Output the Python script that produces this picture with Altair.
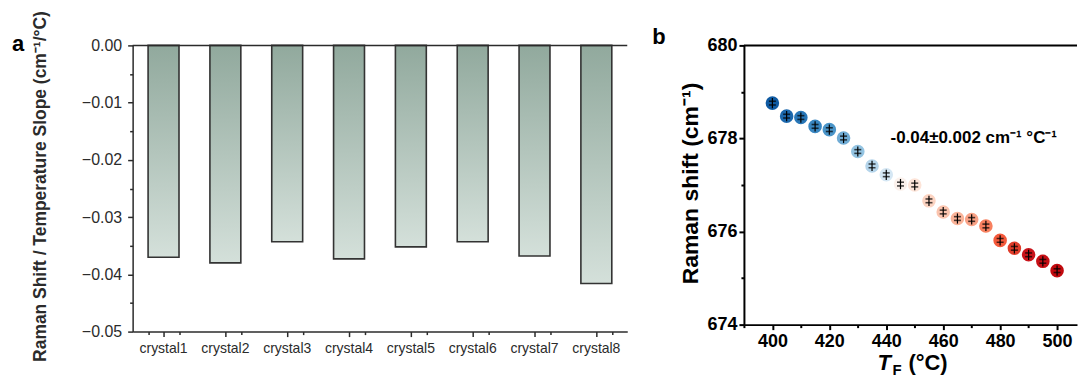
import altair as alt
import pandas as pd

FONT = "Liberation Sans"

# ---- panel a: slope per crystal ----
crystals = ["crystal1", "crystal2", "crystal3", "crystal4",
            "crystal5", "crystal6", "crystal7", "crystal8"]
slopes = [-0.0370, -0.0380, -0.0343, -0.0373, -0.0352, -0.0343, -0.0368, -0.0416]

# ---- panel b: Raman shift vs. temperature ----
temps = [400, 405, 410, 415, 420, 425, 430, 435, 440, 445, 450,
         455, 460, 465, 470, 475, 480, 485, 490, 495, 500]
shifts = [678.76, 678.48, 678.45, 678.26, 678.19, 678.01, 677.72, 677.41,
          677.22, 677.02, 677.00, 676.66, 676.42, 676.28, 676.26, 676.12,
          675.81, 675.64, 675.50, 675.36, 675.16]
shift_err = [0.11, 0.11, 0.11, 0.11, 0.11, 0.11, 0.11, 0.11, 0.11, 0.11, 0.11,
             0.11, 0.11, 0.11, 0.11, 0.11, 0.11, 0.11, 0.11, 0.11, 0.11]
slope_label = "-0.04±0.002 cm⁻¹ °C⁻¹"

bars_df = pd.DataFrame({"crystal": crystals, "slope": slopes})

pts_df = pd.DataFrame({"T": temps, "shift": shifts, "err": shift_err})
pts_df["lo"] = pts_df["shift"] - pts_df["err"]
pts_df["hi"] = pts_df["shift"] + pts_df["err"]
# inner cross-bars of each error glyph sit just off the mean
pts_df["bar_lo"] = pts_df["shift"] - 0.04
pts_df["bar_hi"] = pts_df["shift"] + 0.04

# ================= panel a =================
A_W, A_H = 496, 287
ink_a = "#2b2b2b"

bar_fill = alt.Gradient(
    gradient="linear",
    stops=[alt.GradientStop(color="#91a99d", offset=0),
           alt.GradientStop(color="#d4e0da", offset=1)],
    x1=0, x2=0, y1=0, y2=1,
)

xa_scale = alt.Scale(paddingInner=0.5, paddingOuter=0.25)
ya_scale = alt.Scale(domain=[-0.05, 0], nice=False, zero=False)

bars = alt.Chart(bars_df).mark_bar(
    fill=bar_fill, stroke="#333333", strokeWidth=1.6
).encode(
    x=alt.X("crystal:N", sort=crystals, scale=xa_scale,
            axis=alt.Axis(title=None, labelAngle=0, labelFont=FONT, labelFontSize=14,
                          labelColor=ink_a, tickSize=5, tickWidth=1.5, tickColor=ink_a,
                          domainColor=ink_a, domainWidth=1.5, labelPadding=5,
                          orient="bottom")),
    y=alt.Y("slope:Q", scale=ya_scale,
            axis=alt.Axis(values=[0, -0.01, -0.02, -0.03, -0.04, -0.05], format=".2f",
                          title="Raman Shift / Temperature Slope (cm⁻¹/°C)",
                          titleFont=FONT, titleFontSize=17.5, titleFontWeight="bold",
                          titleColor=ink_a, titleX=-92, titleY=141,
                          titleAngle=-90, titleAlign="center", titleBaseline="middle",
                          labelFont=FONT, labelFontSize=16, labelColor=ink_a,
                          tickSize=5, tickWidth=1.5, tickColor=ink_a,
                          domainColor=ink_a, domainWidth=1.5, labelPadding=6,
                          grid=False, orient="left")),
    y2=alt.datum(0),
)

minor_a = alt.Chart(bars_df).mark_point(opacity=0).encode(
    x=alt.X("crystal:N", sort=crystals, scale=xa_scale,
            axis=alt.Axis(title=None, labels=False, domain=False, tickBand="extent",
                          tickSize=3, tickWidth=1.5, tickColor=ink_a, orient="bottom")),
    y=alt.Y("slope:Q", scale=ya_scale,
            axis=alt.Axis(title=None, labels=False, domain=False, grid=False,
                          values=[-0.005, -0.015, -0.025, -0.035, -0.045],
                          tickSize=3, tickWidth=1.5, tickColor=ink_a, orient="left")),
)

zero_line = alt.Chart(pd.DataFrame({"y": [0]})).mark_rule(
    color=ink_a, strokeWidth=1.5
).encode(y=alt.Y("y:Q", scale=ya_scale, axis=None))

tag_a = alt.Chart(pd.DataFrame({"t": ["a"]})).mark_text(
    font=FONT, fontSize=22, fontWeight="bold", align="left", baseline="middle", color="black"
).encode(text="t:N", x=alt.value(-121), y=alt.value(-1))

panel_a = alt.layer(bars, minor_a, zero_line, tag_a).resolve_axis(
    x="independent", y="independent"
).properties(width=A_W, height=A_H)

# ================= panel b =================
B_W, B_H = 334, 280
ink_b = "black"

xb_scale = alt.Scale(domain=[390, 507], nice=False, zero=False)
yb_scale = alt.Scale(domain=[674, 680], nice=False, zero=False)

temp_colors = alt.Scale(
    domain=[400, 410, 420, 430, 440, 445, 450, 460, 470, 480, 490, 500],
    range=["#0f5aa2", "#2877b8", "#4a95c9", "#94c4e2", "#d5e7f4", "#fbf1ec",
           "#fde4d8", "#fbc4ae", "#f9a286", "#f4593b", "#c9141b", "#c20a0e"],
)

dots = alt.Chart(pts_df).mark_circle(size=185, opacity=1).encode(
    x=alt.X("T:Q", scale=xb_scale,
            axis=alt.Axis(values=[400, 420, 440, 460, 480, 500], title=None,
                          labelFont=FONT, labelFontSize=18, labelFontWeight="bold",
                          labelColor=ink_b, tickSize=5, tickWidth=2, tickColor=ink_b,
                          domainColor=ink_b, domainWidth=2, labelPadding=3,
                          grid=False, orient="bottom")),
    y=alt.Y("shift:Q", scale=yb_scale,
            axis=alt.Axis(values=[674, 676, 678, 680], title="Raman shift (cm⁻¹)",
                          titleFont=FONT, titleFontSize=23, titleFontWeight="bold",
                          titleColor=ink_b, titleX=-54, titleY=138,
                          titleAngle=-90, titleAlign="center", titleBaseline="middle",
                          labelFont=FONT, labelFontSize=18, labelFontWeight="bold",
                          labelColor=ink_b, tickSize=5, tickWidth=2, tickColor=ink_b,
                          domainColor=ink_b, domainWidth=2, labelPadding=2,
                          grid=False, orient="left")),
    color=alt.Color("T:Q", scale=temp_colors, legend=None),
)

stems = alt.Chart(pts_df).mark_rule(color=ink_b, strokeWidth=1.2).encode(
    x=alt.X("T:Q", scale=xb_scale, axis=None),
    y=alt.Y("lo:Q", scale=yb_scale, axis=None),
    y2="hi:Q",
)
bar_up = alt.Chart(pts_df).mark_tick(
    orient="horizontal", size=7, thickness=1.6, color=ink_b
).encode(x=alt.X("T:Q", scale=xb_scale, axis=None),
         y=alt.Y("bar_hi:Q", scale=yb_scale, axis=None))
bar_dn = alt.Chart(pts_df).mark_tick(
    orient="horizontal", size=7, thickness=1.6, color=ink_b
).encode(x=alt.X("T:Q", scale=xb_scale, axis=None),
         y=alt.Y("bar_lo:Q", scale=yb_scale, axis=None))

minor_b = alt.Chart(pts_df).mark_point(opacity=0).encode(
    x=alt.X("T:Q", scale=xb_scale,
            axis=alt.Axis(title=None, labels=False, domain=False, grid=False,
                          values=[390, 410, 430, 450, 470, 490],
                          tickSize=3, tickWidth=2, tickColor=ink_b, orient="bottom")),
    y=alt.Y("shift:Q", scale=yb_scale,
            axis=alt.Axis(title=None, labels=False, domain=False, grid=False,
                          values=[675, 677, 679],
                          tickSize=3, tickWidth=2, tickColor=ink_b, orient="left")),
)

top_line = alt.Chart(pd.DataFrame({"y": [680]})).mark_rule(
    color=ink_b, strokeWidth=2
).encode(y=alt.Y("y:Q", scale=yb_scale, axis=None))

note = alt.Chart(pd.DataFrame({"t": [slope_label], "x": [441.5], "y": [678.0]})).mark_text(
    font=FONT, fontSize=17, fontWeight="bold", align="left", baseline="middle",
    color=ink_b, clip=True
).encode(text="t:N",
         x=alt.X("x:Q", scale=xb_scale, axis=None),
         y=alt.Y("y:Q", scale=yb_scale, axis=None))

tag_b = alt.Chart(pd.DataFrame({"t": ["b"]})).mark_text(
    font=FONT, fontSize=22, fontWeight="bold", align="left", baseline="middle", color="black"
).encode(text="t:N", x=alt.value(-92), y=alt.value(-8))

# x-axis title: italic T with subscript F, then the unit
xt_T = alt.Chart(pd.DataFrame({"t": ["T"]})).mark_text(
    font=FONT, fontSize=22, fontWeight="bold", fontStyle="italic",
    align="left", baseline="alphabetic", color=ink_b
).encode(text="t:N", x=alt.value(134), y=alt.value(B_H + 46))
xt_F = alt.Chart(pd.DataFrame({"t": ["F"]})).mark_text(
    font=FONT, fontSize=15, fontWeight="bold",
    align="left", baseline="alphabetic", color=ink_b
).encode(text="t:N", x=alt.value(149), y=alt.value(B_H + 51))
xt_unit = alt.Chart(pd.DataFrame({"t": ["(°C)"]})).mark_text(
    font=FONT, fontSize=22, fontWeight="bold",
    align="left", baseline="alphabetic", color=ink_b
).encode(text="t:N", x=alt.value(165), y=alt.value(B_H + 46))

panel_b = alt.layer(
    dots, stems, bar_up, bar_dn, minor_b, top_line, note, tag_b, xt_T, xt_F, xt_unit
).resolve_axis(x="independent", y="independent").properties(width=B_W, height=B_H)

chart = alt.hconcat(panel_a, panel_b, spacing=24).properties(
    padding={"left": 12, "top": 9, "right": 0, "bottom": 0},
    background="white",
).configure_view(stroke=None).configure_text(font=FONT)

chart.save("out.html", embed_options={"renderer": "svg", "actions": False})
